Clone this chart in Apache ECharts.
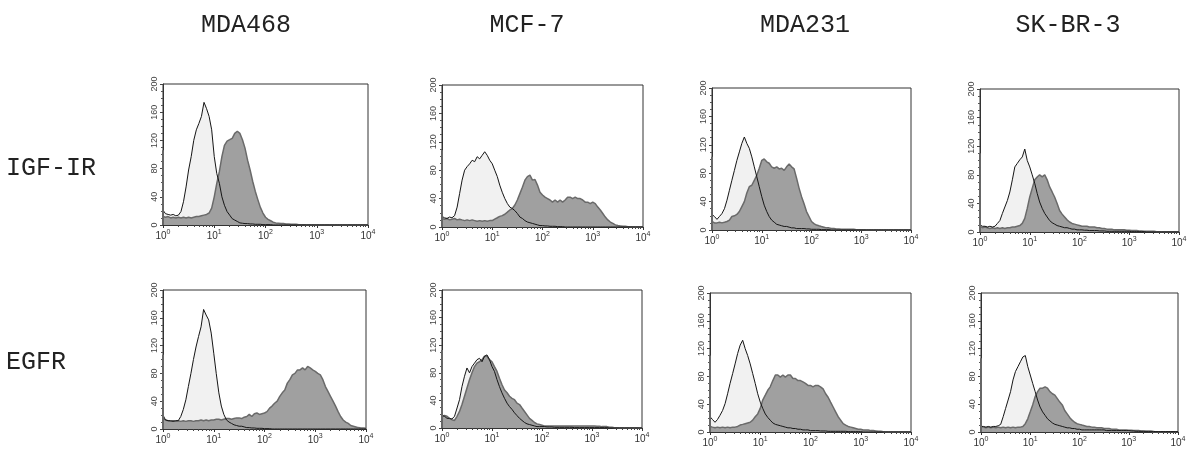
<!DOCTYPE html>
<html><head><meta charset="utf-8">
<script src="https://cdn.jsdelivr.net/npm/echarts@6/dist/echarts.min.js"></script>
<style>html,body{margin:0;padding:0;background:#fff}#c{width:1200px;height:464px}</style>
</head><body><div id="c"></div>
<script>
// ---------------- data ----------------
const cellLines = ['MDA468', 'MCF-7', 'MDA231', 'SK-BR-3'];
const receptors = ['IGF-IR', 'EGFR'];

// fluorescence channel bins (log scale, 10^0 .. 10^4)
const xBins = [1,1.12,1.26,1.41,1.58,1.78,2,2.24,2.51,2.82,3.16,3.55,3.98,4.47,5.01,5.62,6.31,7.08,7.94,8.91,
  10,11.2,12.6,14.1,15.8,17.8,20,22.4,25.1,28.2,31.6,35.5,39.8,44.7,50.1,56.2,63.1,70.8,79.4,89.1,
  100,112,126,141,158,178,200,224,251,282,316,355,398,447,501,562,631,708,794,891,
  1000,1122,1259,1413,1585,1778,1995,2239,2512,2818,3162,3548,3981,4467,5012,5623,6310,7079,7943,8913,10000];

const xLabelValues = [1, 10, 100, 1000, 10000];
const xLabelExponents = ['0', '1', '2', '3', '4'];
const yTicks = [0, 40, 80, 120, 160, 200];

// IGF-IR row: control (open) and stained (filled) histograms
const ctrlIGF_MDA468 = [21,16,15,14,15,13,14,19,33,54,78,97,120,135,144,154,174,165,154,135,
  97,73,59,40,28,19,14,9,7,5,3,2.5,2,2,1.5,1.5,1,1,1,0.5,
  0.5,0.5,0.5,0,0,0,0,0,0,0,0,0,0,0,0,0,0,0,0,0,
  0,0,0,0,0,0,0,0,0,0,0,0,0,0,0,0,0,0,0,0,0];
const posIGF_MDA468 = [12,11,12,10,11,10,11,10,11,10,11,10,11,12,12,13,14,15,17,24,
  40,59,76,97,113,119,121,123,130,133,130,121,109,92,78,62,48,36,25,17,
  11,8,6,4,3,2.5,2,2,1.5,1.5,1,1,1,0.5,0.5,0.5,0,0,0,0,
  0,0,0,0,0,0,0,0,0,0,0,0,0,0,0,0,0,0,0,0,0];

const ctrlIGF_MCF7 = [15,13,12,14,13,16,28,47,66,80,85,89,94,92,99,96,101,106,101,94,
  89,80,71,59,49,40,33,28,26,23,19,14,12,9,7,6,5,4,3,2,
  2,1.5,1.5,1,1,1,0.5,0.5,0.5,0,0,0,0,0,0,0,0,0,0,0,
  0,0,0,0,0,0,0,0,0,0,0,0,0,0,0,0,0,0,0,0,0];
const posIGF_MCF7 = [12,11,12,10,11,12,10,11,10,9,10,9,10,9,8,9,8,9,8,9,
  9,11,13,15,16,18,21,24,26,31,38,47,56,66,71,73,66,67,59,49,
  45,42,40,38,35,38,35,38,35,38,42,42,40,42,40,40,38,35,35,33,
  35,33,28,24,19,14,10,7,5,3,2,1.5,1,1,0.5,0.5,0,0,0,0,0];

const ctrlIGF_MDA231 = [22,19,15,19,23,30,42,56,70,84,98,110,122,131,122,115,103,89,75,61,
  47,35,26,19,14,11,8,7,6,5,5,4,3,3,2,2,2,2,1.5,1.5,
  1,1,1,1,0.5,0.5,0.5,0.5,0,0,0,0,0,0,0,0,0,0,0,0,
  0,0,0,0,0,0,0,0,0,0,0,0,0,0,0,0,0,0,0,0,0];
const posIGF_MDA231 = [12,10,10,11,10,11,12,14,19,20,22,26,33,40,52,61,63,70,77,87,
  98,100,96,94,89,87,89,86,87,84,89,93,89,86,73,59,47,37,26,19,
  12,9,7,6,5,4,3,3,2,2,1.5,1.5,1,1,1,1,1,1,0.5,0.5,
  0.5,0.5,0,0,0,0,0,0,0,0,0,0,0,0,0,0,0,0,0,0,0];

const ctrlIGF_SKBR3 = [10,8,8,7,8,7,8,12,16,26,35,44,56,73,91,96,101,105,116,100,
  91,80,68,54,42,33,26,21,16,13,11,9,8,7,6,6,5,4,4,3,
  3,3,2.5,2.5,2,2,2,2,1.5,1.5,1.5,1,1,1,1,1,1,1,1,1,
  1,0.5,0.5,0.5,0.5,0.5,0.5,0,0,0,0,0,0,0,0,0,0,0,0,0,0];
const posIGF_SKBR3 = [8,6,7,6,5,6,5,6,5,6,5,6,6,7,7,8,9,12,19,33,
  49,61,73,77,80,77,80,73,63,56,49,40,30,25,21,17,14,12,11,10,
  9,8,8,8,7,7,7,6,6,5,5,4,4,4,3,3,3,3,3,2.5,
  2.5,2,2,2,1.5,1.5,1,1,1,1,1,0.5,0.5,0.5,0.5,0.5,0.5,0.5,0.5,0.5,0];

// EGFR row
const ctrlEGFR_MDA468 = [20,13,12,12,11,12,12,18,28,42,61,80,100,118,133,147,172,164,157,138,
  109,80,52,33,21,13,10,8,6,5,4,4,3,2,2,1.5,1.5,1,1,1,
  0.5,0.5,0.5,0,0,0,0,0,0,0,0,0,0,0,0,0,0,0,0,0,
  0,0,0,0,0,0,0,0,0,0,0,0,0,0,0,0,0,0,0,0,0];
const posEGFR_MDA468 = [15,13,12,11,12,11,12,11,12,11,12,12,11,12,12,13,12,13,12,13,
  13,14,14,13,14,15,15,14,15,16,16,15,17,18,21,18,22,23,21,22,
  23,25,30,33,37,40,47,52,56,66,71,78,80,85,85,88,85,90,88,85,
  83,80,78,71,61,54,47,40,33,25,18,13,10,8,5,4,3,2,1.5,1.5,1];

const ctrlEGFR_MCF7 = [18,17,14,14,13,17,29,41,60,75,87,80,89,94,99,101,96,104,106,99,
  89,82,70,60,51,43,36,31,27,22,18,14,11,8,6,5,4,3,2,2,
  2,2,1.5,1.5,1.5,1,1,1,1,1,1,1,1,0.5,0.5,0.5,0.5,0.5,0.5,0.5,
  0.5,0.5,0.5,0.5,0.5,0.5,0.5,0,0,0,0,0,0,0,0,0,0,0,0,0,0];
const posEGFR_MCF7 = [17,18,17,14,12,11,17,24,34,46,58,70,80,89,94,96,99,104,104,99,
  96,89,82,72,63,55,51,46,43,41,36,34,29,24,19,14,11,8,6,5,
  4,3,3,3,3,3,3,3,3,3,3,3,3,3,3,3,3,3,3,3,
  3,3,2.5,2.5,2,2,2,1,1,0.5,0.5,0,0,0,0,0,0,0,0,0,0];

const ctrlEGFR_MDA231 = [22,18,14,18,24,31,41,55,70,84,98,113,125,132,120,110,98,84,70,55,
  43,34,26,21,17,13,11,10,9,8,7,6,6,5,5,4,4,3,3,3,
  2,2,2,2,1.5,1.5,1.5,1,1,1,1,1,1,1,1,0.5,0.5,0.5,0.5,0.5,
  0.5,0,0,0,0,0,0,0,0,0,0,0,0,0,0,0,0,0,0,0,0];
const posEGFR_MDA231 = [8,7,6,7,6,7,6,7,6,7,7,8,10,11,12,13,14,17,22,26,
  34,46,53,60,65,74,82,82,79,82,79,82,82,77,77,74,74,72,70,67,
  67,65,67,67,65,62,55,50,43,36,29,22,17,12,10,8,7,6,5,4,
  4,3,3,3,2,2,1.5,1,1,0.5,0,0,0,0,0,0,0,0,0,0,0];

const ctrlEGFR_SKBR3 = [8,8,7,8,7,8,8,9,11,22,34,46,58,75,87,94,101,108,110,94,
  82,70,58,46,36,29,24,19,16,13,11,10,9,8,7,6,6,5,5,4,
  4,3,3,3,3,3,3,3,3,3,3,2,2,2,2,2,2,2,2,2,
  2,1.5,1.5,1,1,1,1,1,1,1,1,0.5,0.5,0.5,0.5,0.5,0.5,0.5,0.5,0.5,0.5];
const posEGFR_SKBR3 = [8,7,6,7,6,7,6,7,6,7,6,7,6,7,6,7,7,8,12,19,
  29,39,51,58,63,63,65,63,58,55,53,48,43,39,31,26,21,17,14,12,
  11,10,9,8,8,7,7,6,6,6,5,5,5,4,4,4,3,3,3,3,
  2.5,2.5,2,2,2,1.5,1.5,1,1,1,0.5,0.5,0.5,0.5,0.5,0.5,0.5,0.5,0.5,0.5,0.5];

// first-channel (off-scale) counts piled on the left edge
const firstBinIGF = [106, 108, 103, 110];
const firstBinEGFR = [107, 113, 110, 106];

// ---------------- layout ----------------
const panels = [
  {ctrl: ctrlIGF_MDA468, pos: posIGF_MDA468, spike: firstBinIGF[0], box: [163, 84, 205, 141]},
  {ctrl: ctrlIGF_MCF7, pos: posIGF_MCF7, spike: firstBinIGF[1], box: [442, 85, 201, 142]},
  {ctrl: ctrlIGF_MDA231, pos: posIGF_MDA231, spike: firstBinIGF[2], box: [712, 88, 199, 142]},
  {ctrl: ctrlIGF_SKBR3, pos: posIGF_SKBR3, spike: firstBinIGF[3], box: [980, 89, 199, 143]},
  {ctrl: ctrlEGFR_MDA468, pos: posEGFR_MDA468, spike: firstBinEGFR[0], box: [163, 290, 203, 139]},
  {ctrl: ctrlEGFR_MCF7, pos: posEGFR_MCF7, spike: firstBinEGFR[1], box: [442, 290, 200, 138]},
  {ctrl: ctrlEGFR_MDA231, pos: posEGFR_MDA231, spike: firstBinEGFR[2], box: [710, 293, 201, 139]},
  {ctrl: ctrlEGFR_SKBR3, pos: posEGFR_SKBR3, spike: firstBinEGFR[3], box: [981, 293, 197, 139]}
];
const titleX = [246, 527, 805, 1068];
const rowLabelY = [168, 362];

const expOf = {};
xLabelValues.forEach((v, i) => { expOf[v] = xLabelExponents[i]; });

const grid = [], xAxis = [], yAxis = [], series = [];
panels.forEach((p, i) => {
  grid.push({left: p.box[0], top: p.box[1], width: p.box[2], height: p.box[3],
    show: true, borderColor: '#333', borderWidth: 1, backgroundColor: 'transparent'});
  xAxis.push({
    type: 'log', logBase: 10, gridIndex: i, min: xLabelValues[0], max: xLabelValues[xLabelValues.length - 1],
    axisLine: {show: true, lineStyle: {color: '#333', width: 1}},
    axisTick: {show: true, length: 3, lineStyle: {color: '#333'}},
    minorTick: {show: true, splitNumber: 9, length: 2, lineStyle: {color: '#444'}},
    splitLine: {show: false}, minorSplitLine: {show: false},
    axisLabel: {
      margin: 4, color: '#333', fontSize: 10, fontFamily: 'Liberation Sans',
      formatter: v => '{b|10}{s|' + (expOf[v] !== undefined ? expOf[v] : '') + '}',
      rich: {b: {fontSize: 10, fontFamily: 'Liberation Sans', color: '#333'},
             s: {fontSize: 7, fontFamily: 'Liberation Sans', color: '#333', padding: [0, 0, 7, 0]}}
    }
  });
  yAxis.push({
    type: 'value', gridIndex: i, min: yTicks[0], max: yTicks[yTicks.length - 1], interval: yTicks[1] - yTicks[0],
    axisLine: {show: true, lineStyle: {color: '#333', width: 1}},
    axisTick: {show: true, length: 3, lineStyle: {color: '#444'}},
    minorTick: {show: true, splitNumber: 4, length: 2, lineStyle: {color: '#555'}},
    splitLine: {show: false},
    axisLabel: {rotate: 90, fontSize: 9, color: '#444', margin: 4, fontFamily: 'Liberation Sans'}
  });
  const ctrlData = xBins.map((x, k) => [x, p.ctrl[k]]);
  const posData = xBins.map((x, k) => [x, p.pos[k]]);
  const common = {type: 'line', xAxisIndex: i, yAxisIndex: i, symbol: 'none', showSymbol: false, silent: true, animation: false};
  series.push(Object.assign({}, common, {data: ctrlData, z: 1,
    lineStyle: {width: 0, opacity: 0}, areaStyle: {color: '#f1f1f1', opacity: 1}}));
  series.push(Object.assign({}, common, {data: posData, z: 2,
    lineStyle: {color: '#6a6a6a', width: 1.5}, areaStyle: {color: '#a0a0a0', opacity: 1}}));
  series.push(Object.assign({}, common, {data: ctrlData, z: 3,
    lineStyle: {color: '#151515', width: 1}}));
  series.push(Object.assign({}, common, {data: [[xBins[0], 0], [xBins[0], p.spike]], z: 4, clip: false,
    lineStyle: {color: '#666', width: 2}}));
});

const graphic = [];
cellLines.forEach((t, i) => graphic.push({type: 'text', x: titleX[i], y: 25, silent: true,
  style: {text: t, fill: '#222', font: '25px "Liberation Mono"', align: 'center', verticalAlign: 'middle'}}));
receptors.forEach((t, i) => graphic.push({type: 'text', x: 6, y: rowLabelY[i], silent: true,
  style: {text: t, fill: '#222', font: '25px "Liberation Mono"', align: 'left', verticalAlign: 'middle'}}));

const chart = echarts.init(document.getElementById('c'), null, {renderer: 'canvas'});
chart.setOption({backgroundColor: '#fff', animation: false, grid, xAxis, yAxis, series, graphic});
</script></body></html>
